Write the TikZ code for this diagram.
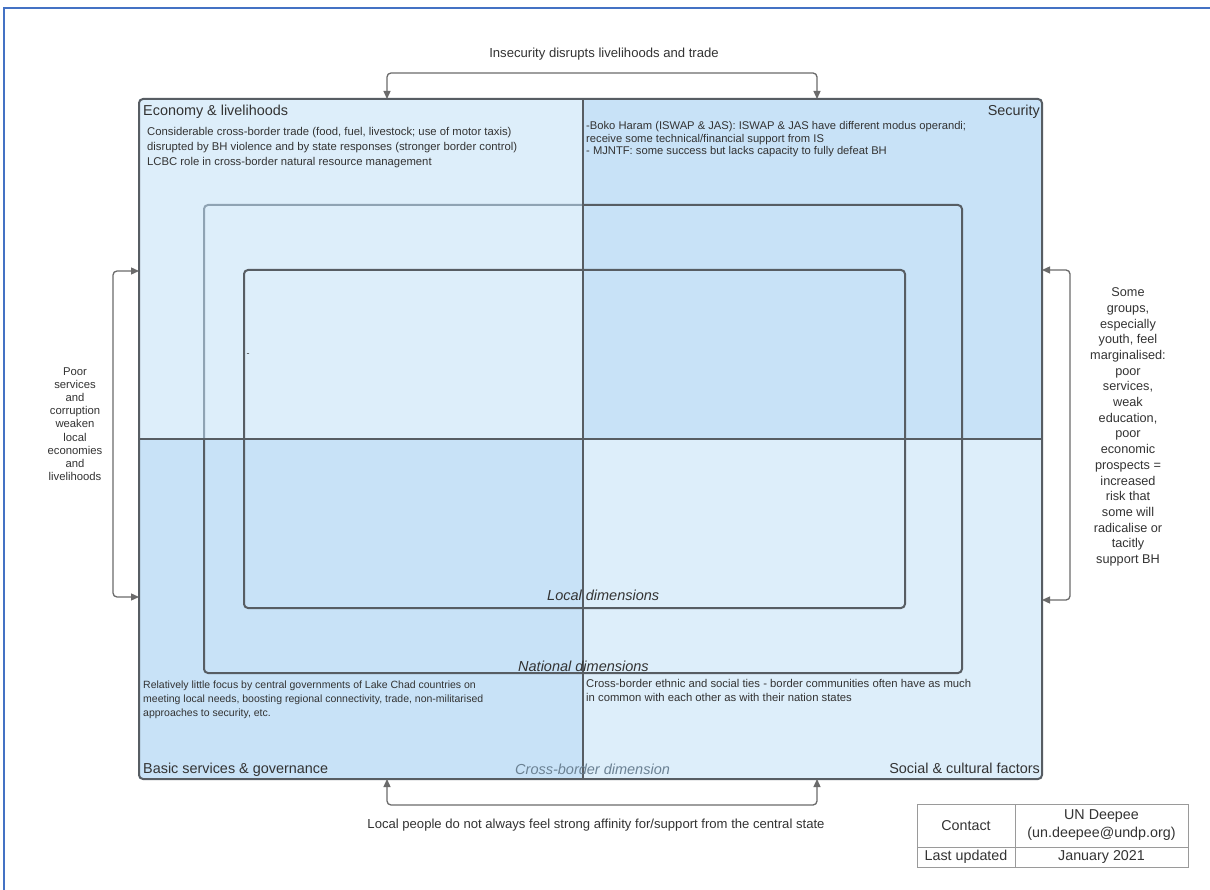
\documentclass[tikz,border=0pt]{standalone}
\usepackage{fontspec}
\setmainfont{Liberation Sans}
\usetikzlibrary{arrows.meta}
\definecolor{lq}{HTML}{DDEEFA}
\definecolor{mq}{HTML}{C8E2F7}
\definecolor{ln}{HTML}{575D63}
\definecolor{tx}{HTML}{333333}
\definecolor{fr}{HTML}{4472C4}
\definecolor{arc}{HTML}{6B6B6B}
\definecolor{cb}{HTML}{6B8193}
\definecolor{nl}{HTML}{8FA3B3}
\definecolor{tb}{HTML}{9A9A9A}
\begin{document}
\begin{tikzpicture}[x=1pt,y=-1pt,
  quad/.style={inner sep=0, outer sep=0, anchor=north west, draw=none},
  bord/.style={draw=ln, line width=2, rounded corners=4},
  title/.style={inner sep=0, text=tx, font=\fontsize{14.4}{16}\selectfont},
  body/.style={inner sep=0, text=tx, align=left, anchor=north west},
  dim/.style={inner sep=0, text=tx, font=\fontsize{14.5}{16}\selectfont\itshape, anchor=base west},
  side/.style={inner sep=0, text=tx, align=center, font=\fontsize{12.7}{15.7}\selectfont},
  arr/.style={draw=arc, line width=1.3, rounded corners=4, {Triangle[length=8,width=7]}-{Triangle[length=8,width=7]}},
  cell/.style={draw=tb, line width=0.8, inner sep=0, outer sep=0, anchor=north west, text=tx, align=center, font=\fontsize{14.3}{18}\selectfont}
]
\useasboundingbox (0,0) rectangle (1210,890);
\fill[white] (0,0) rectangle (1210,890);
\draw[fr, line width=2] (4,890) -- (4,8) -- (1210,8);

% quadrants
\node[quad, fill=lq, minimum width=444, minimum height=340] (econ) at (139,99) {};
\node[quad, fill=mq, minimum width=459, minimum height=340] (sec) at (583,99) {};
\node[quad, fill=mq, minimum width=444, minimum height=340] (basic) at (139,439) {};
\node[quad, fill=lq, minimum width=459, minimum height=340] (social) at (583,439) {};

% national and local dimension frames
\draw[bord] (204,439) -- (204,673) -- (962,673) -- (962,205) -- (583,205);
\draw[draw=nl, line width=2, rounded corners=4] (583,205) -- (204,205) -- (204,439);
\draw[bord] (244,270) rectangle (905,608);

% grid and outer border
\draw[draw=ln, line width=2] (583,99) -- (583,779);
\draw[draw=ln, line width=2] (139,439) -- (1042,439);
\draw[bord] (139,99) rectangle (1042,779);

% titles
\node[title, anchor=north west] (t1) at (143,105.3) {Economy \& livelihoods};
\node[title, anchor=north east] (t2) at (1040,105.3) {Security};
\node[title, anchor=base west] (t3) at (143,773.7) {Basic services \& governance};
\node[title, anchor=base east] (t4) at (1040,773.7) {Social \& cultural factors};

% bodies
\node[body, font=\fontsize{11.3}{15}\selectfont] (b1) at (147,127.4) {Considerable cross-border trade (food, fuel, livestock; use of motor taxis)\\disrupted by BH violence and by state responses (stronger border control)\\LCBC role in cross-border natural resource management};
\node[body, font=\fontsize{11.2}{12.5}\selectfont] (b2) at (586,121.3) {-Boko Haram (ISWAP \& JAS): ISWAP \& JAS have different modus operandi;\\receive some technical/financial support from IS\\- MJNTF: some success but lacks capacity to fully defeat BH};
\node[body, font=\fontsize{10.5}{14}\selectfont] (b3) at (143,680.5) {Relatively little focus by central governments of Lake Chad countries on\\meeting local needs, boosting regional connectivity, trade, non-militarised\\approaches to security, etc.};
\node[body, font=\fontsize{11.3}{14}\selectfont] (b4) at (586,679.5) {Cross-border ethnic and social ties - border communities often have as much\\in common with each other as with their nation states};
\node[inner sep=0, text=tx, font=\fontsize{9}{10}\selectfont] (dash) at (248,355) {-};

% dimension labels
\node[dim] (ld) at (547,600) {Local dimensions};
\node[dim] (nd) at (518,671) {National dimensions};
\node[dim, text=cb] (cd) at (515,774) {Cross-border dimension};

% arrows
\coordinate (tA) at (387,99); \coordinate (tB) at (817,99);
\coordinate (lA) at (139,271); \coordinate (lB) at (139,597);
\coordinate (rA) at (1042,270); \coordinate (rB) at (1042,600);
\coordinate (dA) at (387,779); \coordinate (dB) at (817,779);
\draw[arr] (tA) -- (387,73) -- (817,73) -- (tB);
\draw[arr] (lA) -- (113,271) -- (113,597) -- (lB);
\draw[arr] (rA) -- (1070,270) -- (1070,600) -- (rB);
\draw[arr] (dA) -- (387,805) -- (817,805) -- (dB);

% arrow labels
\node[side, font=\fontsize{13.1}{15}\selectfont] (lt) at (604,54) {Insecurity disrupts livelihoods and trade};
\node[side, font=\fontsize{13.1}{15}\selectfont] (lb) at (596,825) {Local people do not always feel strong affinity for/support from the central state};
\node[side, font=\fontsize{11.3}{13.2}\selectfont] (ll) at (75,424) {Poor\\services\\and\\corruption\\weaken\\local\\economies\\and\\livelihoods};
\node[side] (lr) at (1128,427) {Some\\groups,\\especially\\youth, feel\\marginalised:\\poor\\services,\\weak\\education,\\poor\\economic\\prospects =\\increased\\risk that\\some will\\radicalise or\\tacitly\\support BH};

% table
\node[cell, minimum width=98, minimum height=43] (c1) at (917,804) {Contact};
\node[cell, minimum width=173, minimum height=43] (c2) at (1015,804) {UN Deepee\\(un.deepee@undp.org)};
\node[cell, minimum width=98, minimum height=20] (c3) at (917,847) {Last updated};
\node[cell, minimum width=173, minimum height=20] (c4) at (1015,847) {January 2021};
\end{tikzpicture}
\end{document}
